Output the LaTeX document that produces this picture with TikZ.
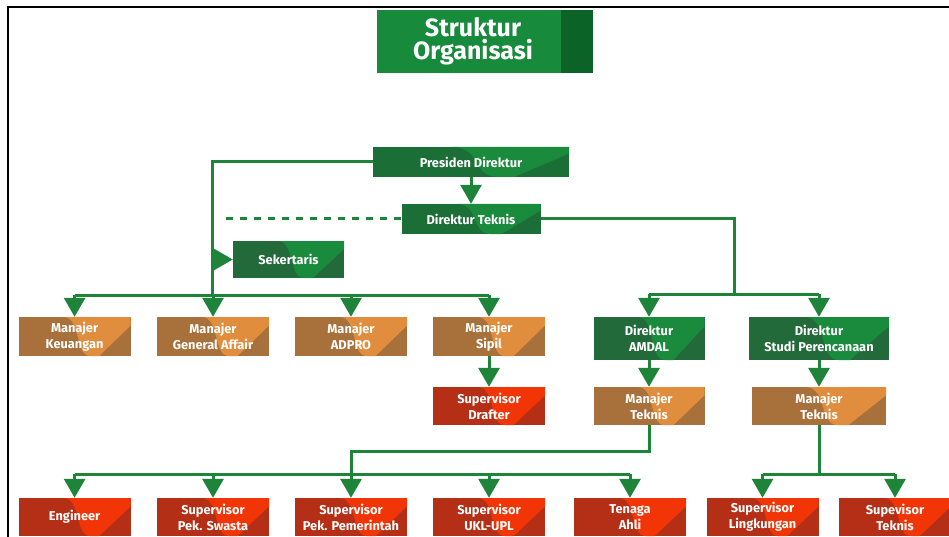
\documentclass[tikz,border=0pt]{standalone}
\usepackage{fontspec}
\setmainfont{Fira Sans}
\usetikzlibrary{arrows.meta,calc}

\definecolor{lnkgreen}{HTML}{1E843A}
\definecolor{ttlgreen}{HTML}{178A3C}
\definecolor{ttldark}{HTML}{0C6328}
\definecolor{grnbase}{HTML}{1C6E37}
\definecolor{grnlight}{HTML}{1A8A3C}
\definecolor{mutbase}{HTML}{236A3A}
\definecolor{brnbase}{HTML}{A8703A}
\definecolor{brnlight}{HTML}{E08D3E}
\definecolor{redbase}{HTML}{B52F17}
\definecolor{redlight}{HTML}{F23507}

\tikzset{
	swoosh/.style={path picture={
		\fill[#1] let \p1=(path picture bounding box.south west), \p2=(path picture bounding box.north east) in
			({\x1+0.40*(\x2-\x1)},\y2) .. controls ({\x1+0.56*(\x2-\x1)},\y2) and ({\x1+0.50*(\x2-\x1)},\y1) .. ({\x1+0.64*(\x2-\x1)},\y1)
			-- ({\x1+0.72*(\x2-\x1)},\y1) -- (\x2,{\y1+0.78*(\y2-\y1)}) -- (\x2,\y2) -- cycle;}},
	orgbox/.style 2 args={fill=#1, swoosh=#2, text=white, font=\bfseries\fontsize{12.8}{16}\selectfont,
		align=center, inner sep=0pt, minimum width=112pt, minimum height=39pt},
	lead/.style={orgbox={grnbase}{grnlight}, minimum width=196pt, minimum height=30pt},
	dir/.style={orgbox={mutbase}{grnlight}},
	mgr/.style={orgbox={brnbase}{brnlight}},
	spv/.style={orgbox={redbase}{redlight}},
	titlebox/.style={fill=ttlgreen, text=white, font=\bfseries\fontsize{25}{23}\selectfont,
		align=center, inner sep=0pt, minimum width=192pt, minimum height=63pt},
	link/.style={draw=lnkgreen, line width=3pt},
	arr/.style={link, -{Triangle[width=21pt,length=19pt]}}
}

\begin{document}
\begin{tikzpicture}[x=1pt,y=-1pt]
	\useasboundingbox[fill=white] (0,0) rectangle (949,537);
	\draw[line width=2.5pt] (8,537) -- (8,7) -- (949,7);

	\node[titlebox] (title) at (473,41.5) {Struktur\\Organisasi};
	\fill[ttldark] ([xshift=-8pt]title.north east) rectangle ([xshift=24pt]title.south east);

	\node[lead] (pres) at (471,162) {Presiden Direktur};
	\node[lead, minimum width=139pt] (dtek) at (471,219) {Direktur Teknis};
	\node[dir, minimum width=111pt, minimum height=37pt] (sek) at (288.5,259.5) {Sekertaris};

	\node[mgr] (keu) at (74.6,336.5) {Manajer\\Keuangan};
	\node[mgr] (ga) at (213,336.5) {Manajer\\General Affair};
	\node[mgr] (adp) at (351,336.5) {Manajer\\ADPRO};
	\node[mgr] (sip) at (489,336.5) {Manajer\\Sipil};
	\node[spv, minimum height=38pt] (dra) at (489,406) {Supervisor\\Drafter};

	\node[dir, minimum width=111pt, minimum height=43pt] (amd) at (649,338.5) {Direktur\\AMDAL};
	\node[dir, minimum width=140pt, minimum height=43pt] (stp) at (819,338.5) {Direktur\\Studi Perencanaan};
	\node[mgr, minimum width=111pt, minimum height=38pt] (mta) at (649,406) {Manajer\\Teknis};
	\node[mgr, minimum width=134pt, minimum height=38pt] (mts) at (819,406) {Manajer\\Teknis};

	\node[spv, minimum height=38pt] (eng) at (74.6,517) {Engineer};
	\node[spv, minimum height=38pt] (psw) at (213,517) {Supervisor\\Pek. Swasta};
	\node[spv, minimum height=38pt] (ppm) at (351,517) {Supervisor\\Pek. Pemerintah};
	\node[spv, minimum height=38pt] (ukl) at (489,517) {Supervisor\\UKL-UPL};
	\node[spv, minimum height=38pt] (ahl) at (630,517) {Tenaga\\Ahli};
	\node[spv, minimum height=38pt] (lkg) at (762.5,517) {Supervisor\\Lingkungan};
	\node[spv, minimum height=38pt] (tkn) at (895,517) {Supevisor\\Teknis};

	\coordinate (lbus) at (212,295);
	\coordinate (sekjoin) at (212,259.5);
	\coordinate (dashend) at (225,219);
	\coordinate (rbus) at (734,294);
	\coordinate (mbus) at (351,451);
	\coordinate (bbus) at (351,474);
	\coordinate (sbus) at (819,474);

	\draw[link] (pres.west) -| (lbus);
	\draw[arr] (sekjoin) -- (sek.west);
	\draw[link] (keu.north |- lbus) -- (sip.north |- lbus);
	\foreach \n in {keu,ga,adp,sip}
		\draw[arr] (\n.north |- lbus) -- (\n.north);

	\draw[arr] (pres.south) -- (dtek.north);
	\draw[link, dash pattern=on 7pt off 7pt] (dtek.west) -- (dashend);
	\draw[link] (dtek.east) -| (rbus);
	\draw[link] (amd.north |- rbus) -- (stp.north |- rbus);
	\foreach \n in {amd,stp}
		\draw[arr] (\n.north |- rbus) -- (\n.north);

	\draw[arr] (sip.south) -- (dra.north);
	\draw[arr] (amd.south) -- (mta.north);
	\draw[arr] (stp.south) -- (mts.north);

	\draw[arr] (mta.south) |- (mbus) -- (ppm.north);
	\draw[link] (eng.north |- bbus) -- (ahl.north |- bbus);
	\foreach \n in {eng,psw,ukl,ahl}
		\draw[arr] (\n.north |- bbus) -- (\n.north);

	\draw[link] (mts.south) -- (sbus);
	\draw[link] (lkg.north |- sbus) -- (tkn.north |- sbus);
	\foreach \n in {lkg,tkn}
		\draw[arr] (\n.north |- sbus) -- (\n.north);

\end{tikzpicture}
\end{document}
